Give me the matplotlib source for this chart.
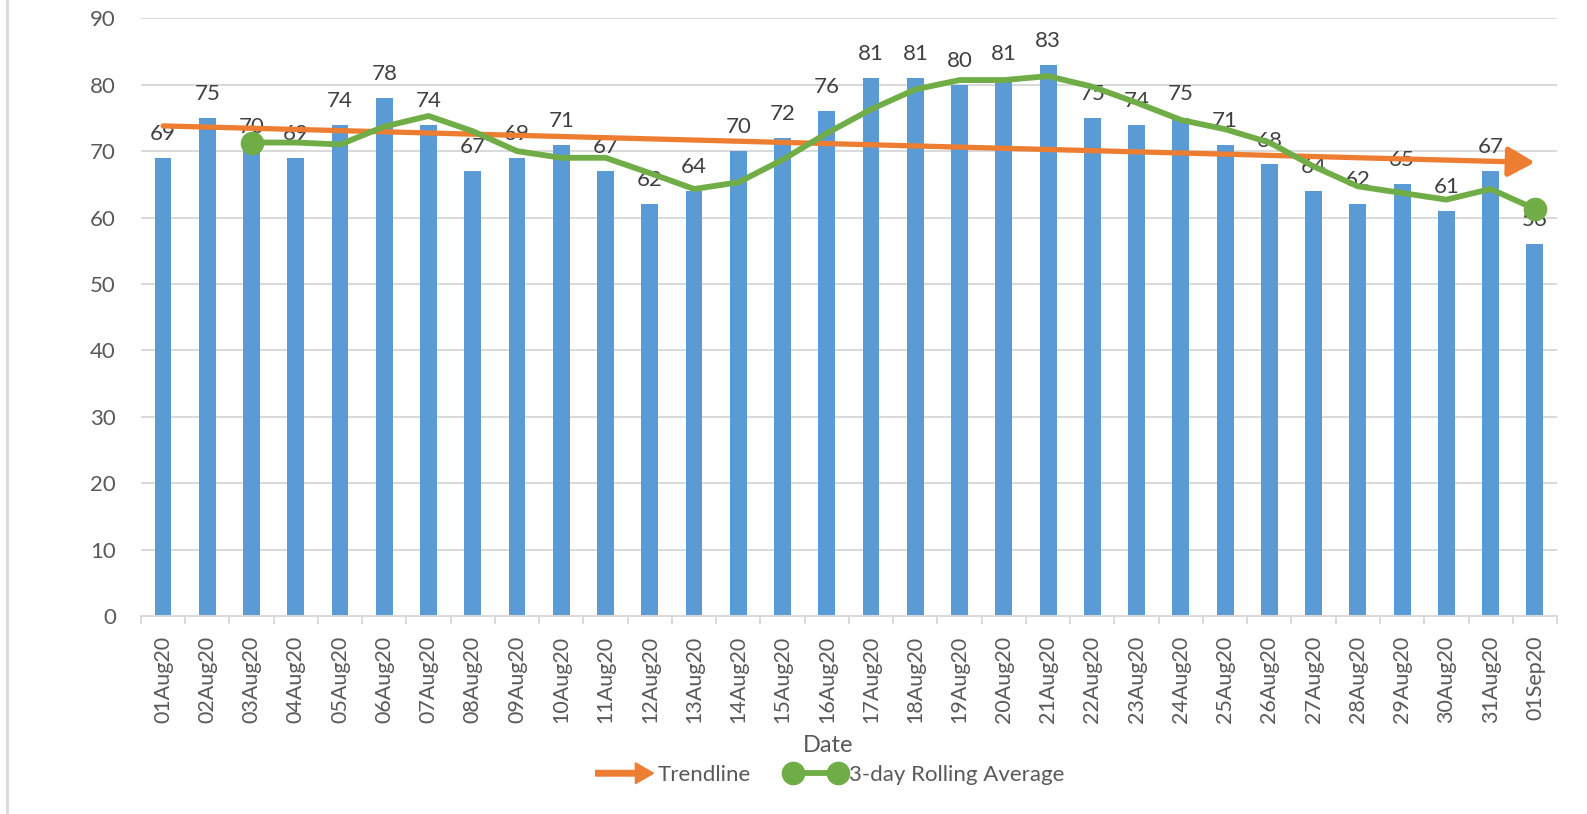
import matplotlib
matplotlib.use("Agg")
import matplotlib.pyplot as plt
from matplotlib.lines import Line2D
from matplotlib.patches import FancyArrow
from matplotlib.legend_handler import HandlerPatch

# Daily values, Aug 2020
dates = ["01Aug20", "02Aug20", "03Aug20", "04Aug20", "05Aug20", "06Aug20", "07Aug20", "08Aug20",
         "09Aug20", "10Aug20", "11Aug20", "12Aug20", "13Aug20", "14Aug20", "15Aug20", "16Aug20",
         "17Aug20", "18Aug20", "19Aug20", "20Aug20", "21Aug20", "22Aug20", "23Aug20", "24Aug20",
         "25Aug20", "26Aug20", "27Aug20", "28Aug20", "29Aug20", "30Aug20", "31Aug20", "01Sep20"]
values = [69, 75, 70, 69, 74, 78, 74, 67, 69, 71, 67, 62, 64, 70, 72, 76,
          81, 81, 80, 81, 83, 75, 74, 75, 71, 68, 64, 62, 65, 61, 67, 56]

# 3-day rolling average, starts on the 3rd day
rolling_avg = [71.3, 71.3, 71.0, 73.7, 75.3, 73.0, 70.0, 69.0, 69.0, 66.7, 64.3, 65.3,
               68.7, 72.7, 76.3, 79.3, 80.7, 80.7, 81.3, 79.7, 77.3, 74.7, 73.3, 71.3,
               67.7, 64.7, 63.7, 62.7, 64.3, 61.3]

# trendline end points (first and last day)
trend_ends = [73.8, 68.3]

BAR = "#5B9BD5"
ORANGE = "#ED7D31"
GREEN = "#70AD47"
GRID = "#D9D9D9"
TXT = "#595959"

plt.rcParams["font.family"] = ["Lato", "DejaVu Sans"]

fig = plt.figure(figsize=(15.87, 8.14), dpi=100)
ax = fig.add_axes([0.0888, 0.2432, 0.8923, 0.7343])

x = list(range(len(dates)))
ax.bar(x, values, width=0.38, color=BAR, zorder=2)

for xi, v in zip(x, values):
    ax.annotate(str(v), (xi, v), xytext=(0, 10), textcoords="offset points",
                ha="center", va="bottom", fontsize=16, color="#404040", zorder=3)

# trendline with arrow head
ax.annotate("", xy=(len(dates) - 1, trend_ends[1]), xytext=(0, trend_ends[0]),
            arrowprops=dict(arrowstyle="-|>,head_length=0.8,head_width=0.45", color=ORANGE,
                            lw=3.8, mutation_scale=20, shrinkA=0, shrinkB=0), zorder=4)

# rolling average, markers only at the ends
rx = x[2:]
ax.plot(rx, rolling_avg, color=GREEN, lw=4.2, zorder=5, solid_joinstyle="round",
        marker="o", markersize=16, markevery=[0, len(rolling_avg) - 1])

ax.set_xlim(-0.5, len(dates) - 0.5)
ax.set_ylim(0, 90)
ax.set_yticks(range(0, 91, 10))
ax.yaxis.grid(True, color=GRID, lw=1.4, zorder=0)
ax.set_axisbelow(True)

ax.set_xticks(x)
ax.set_xticklabels(dates, rotation=90, fontsize=15.5, color=TXT)
ax.set_xticks([i - 0.5 for i in range(len(dates) + 1)], minor=True)
ax.tick_params(axis="x", which="major", length=0, pad=14)
ax.tick_params(axis="x", which="minor", length=6, color=GRID, width=1.4)
ax.tick_params(axis="y", length=0, pad=18, labelsize=16, labelcolor=TXT)

for s in ["top", "right", "left"]:
    ax.spines[s].set_visible(False)
ax.spines["bottom"].set_color(GRID)
ax.spines["bottom"].set_linewidth(1.4)

fig.text(0.522, 1 - 745 / 814, "Date", ha="center", va="center", fontsize=17, color=TXT)


def make_arrow(legend, orig_handle, xdescent, ydescent, width, height, fontsize):
    return FancyArrow(-xdescent, height / 2 - ydescent, width, 0, width=4, head_width=15,
                      head_length=13, length_includes_head=True, color=ORANGE)


arrow_handle = FancyArrow(0, 0, 1, 0, color=ORANGE)
roll_handle = Line2D([], [], color=GREEN, lw=4.2, marker="o", markersize=16)
leg = fig.legend([arrow_handle, roll_handle], ["Trendline", "3-day Rolling Average"],
                 loc="center", bbox_to_anchor=(0.523, 1 - 775 / 814), ncol=2, frameon=False,
                 fontsize=16, labelcolor=TXT, handlelength=2.6, columnspacing=1.6,
                 handletextpad=0.2, numpoints=2,
                 handler_map={FancyArrow: HandlerPatch(patch_func=make_arrow)})

# chart area border on the left
fig.add_artist(Line2D([7 / 1587, 7 / 1587], [0, 1], transform=fig.transFigure,
                      color=GRID, lw=2))

fig.savefig("out.png", dpi=100)
